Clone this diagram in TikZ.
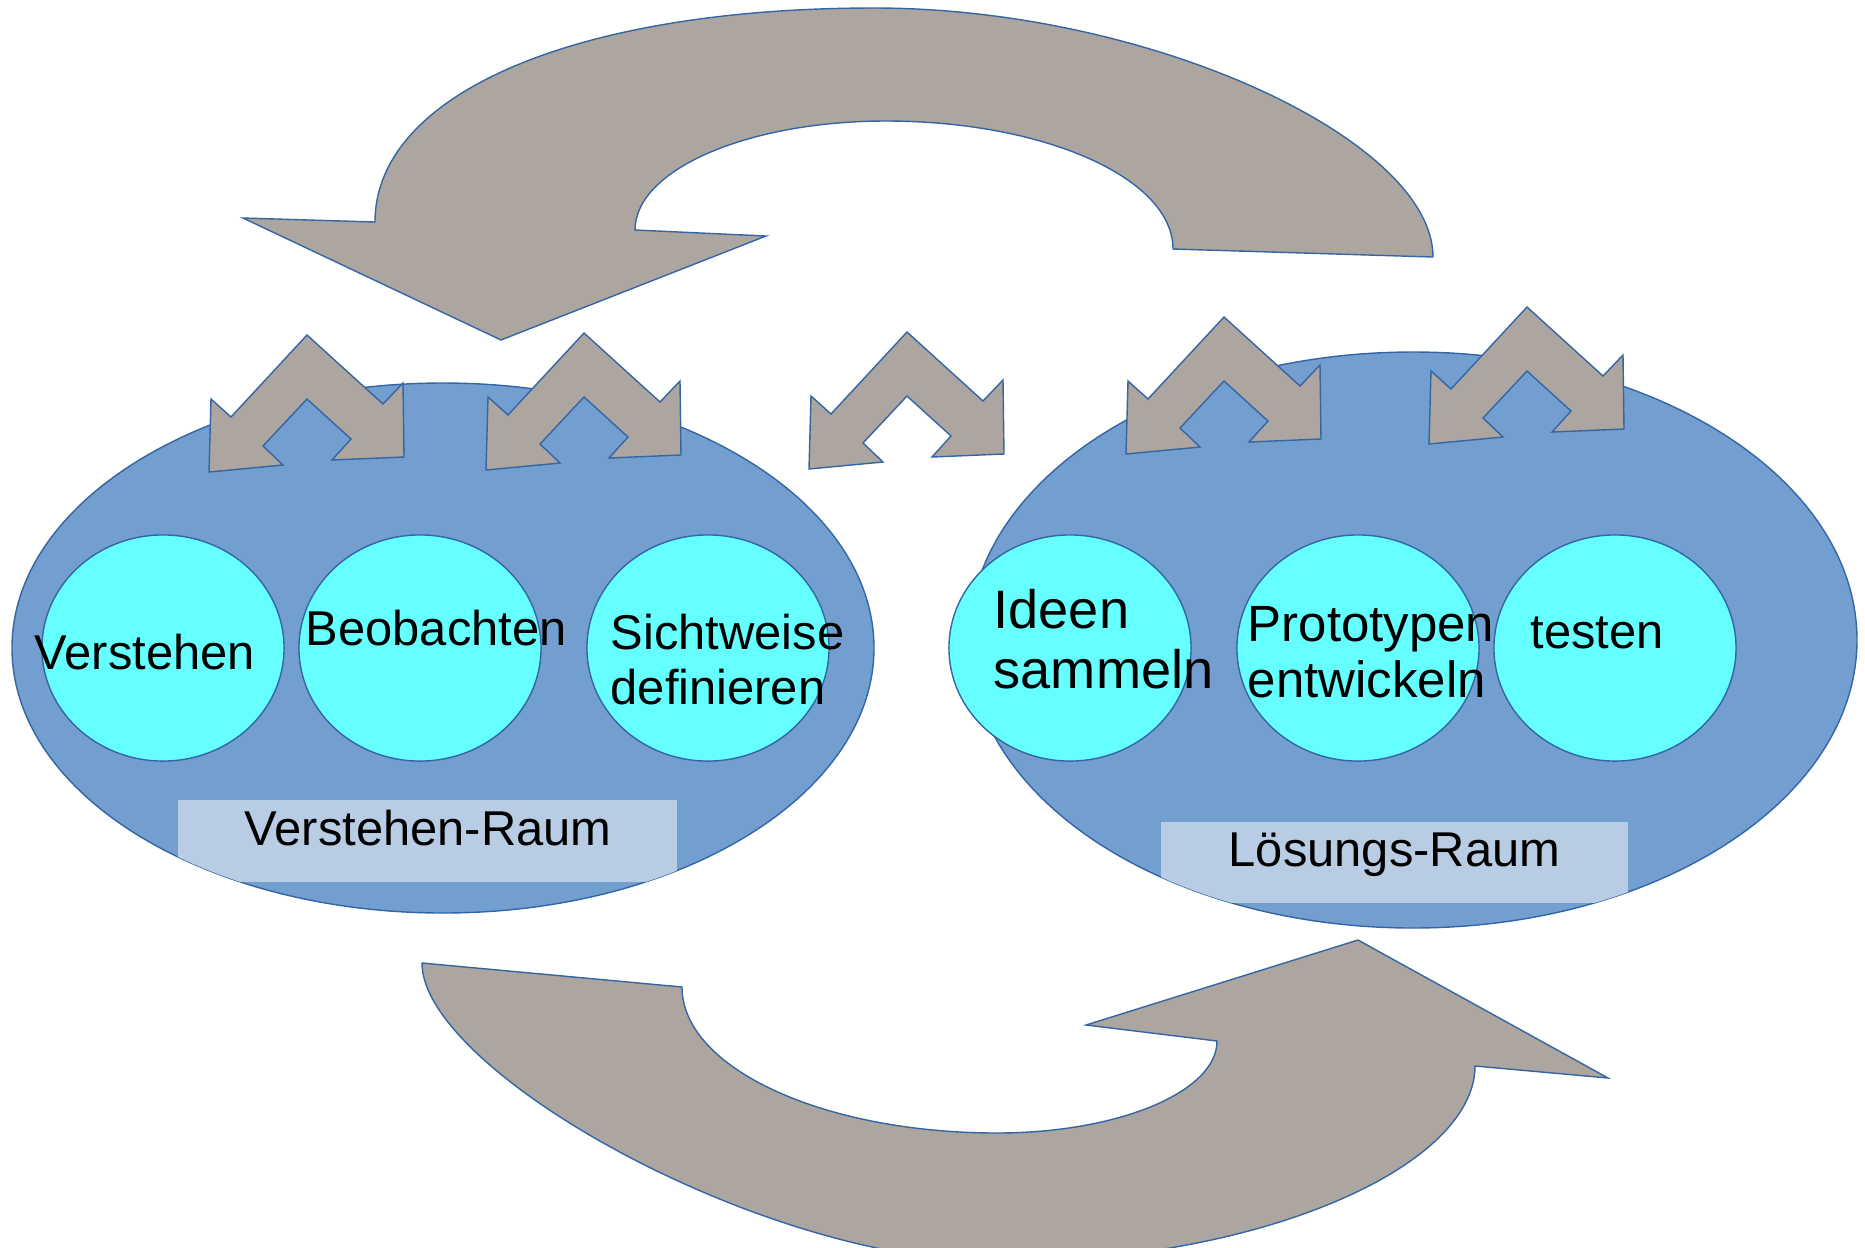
\documentclass[tikz,border=0pt]{standalone}
\usepackage{fontspec}
\setmainfont{Liberation Sans}
\usepackage{xcolor}
\usetikzlibrary{shapes.geometric, positioning}
\definecolor{arrowgrey}{RGB}{173, 166, 160}
\definecolor{roomblue}{RGB}{114, 159, 207}
\definecolor{bubblecyan}{RGB}{102, 255, 255}
\definecolor{tagblue}{RGB}{184, 204, 228}
\definecolor{edgeblue}{RGB}{52, 101, 164}

\tikzset{
    cyclearrow/.style={fill=arrowgrey, draw=edgeblue, line width=0.4pt, line join=miter},
    roomfill/.style={fill=roomblue, draw=edgeblue, line width=0.4pt},
    bubble/.style={ellipse, fill=bubblecyan, draw=edgeblue, line width=0.4pt, minimum width=2.42cm, minimum height=2.26cm, inner sep=0pt},
    word/.style={inner sep=0pt, align=left, anchor=base west, font=\fontsize{13.9}{15.7}\selectfont},
    roomtag/.style={fill=tagblue},
    twoway/.pic={
        \draw[cyclearrow] (0,0) -- (76,69) -- (96,48) -- (97,122) -- (25,125) -- (44,104) -- (0,64)
            -- (-44,111) -- (-24,130) -- (-98,137) -- (-96,64) -- (-76,82) -- cycle;
    }
}

\begin{document}
\begin{tikzpicture}[x=0.01cm, y=-0.01cm]
        \useasboundingbox (0,0) rectangle (1865,1247);

        % Upper loop arrow (back to understanding)
        \draw[cyclearrow] (1173,249) .. controls (1173,178) and (1044,121) .. (886,121)
            .. controls (747,121) and (635,170) .. (635,230) -- (766,236) -- (501,340) -- (243,218) -- (375,222)
            .. controls (375,94) and (575,8) .. (874,8)
            .. controls (1150,8) and (1433,140) .. (1433,257) -- cycle;

        % Lower loop arrow (on to solutions)
        \begin{scope}
            \clip (0,0) rectangle (1865,1247);
            \draw[cyclearrow] (422,963) -- (682,987) .. controls (682,1068) and (823,1133) .. (997,1133)
                .. controls (1118,1133) and (1217,1092) .. (1217,1041) -- (1086,1025) -- (1358,940) -- (1608,1078) -- (1475,1066)
                .. controls (1475,1166) and (1262,1262) .. (999,1262)
                .. controls (760,1262) and (422,1070) .. (422,963) -- cycle;
        \end{scope}

        % Spaces
        \draw[roomfill] (443,648) ellipse [x radius=431, y radius=265];
        \draw[roomfill] (1413,640) ellipse [x radius=444, y radius=288];

        % Understanding steps
        \node[bubble] (verstehen) at (163,648) {};
        \node[bubble] (beobachten) at (420,648) {};
        \node[bubble] (sichtweise) at (708,648) {};
        \node[word] (tverstehen) at (34,669) {Verstehen};
        \node[word] (tbeobachten) at (305,645) {Beobachten};
        \node[word, font=\fontsize{13.9}{15.6}\selectfont] (tsichtweise) at (610,704) {Sichtweise\\definieren};

        % Solution steps
        \node[bubble] (ideen) at (1070,648) {};
        \node[bubble] (prototypen) at (1358,648) {};
        \node[bubble] (testen) at (1615,648) {};
        \node[word, font=\fontsize{15.4}{16.8}\selectfont] (tideen) at (993,688) {Ideen\\sammeln};
        \node[word, font=\fontsize{14.5}{15.9}\selectfont] (tprototypen) at (1247,697) {Prototypen\\entwickeln};
        \node[word] (ttesten) at (1530,648) {testen};

        % Space labels
        \begin{scope}
            \clip (443,648) ellipse [x radius=431, y radius=265];
            \fill[roomtag] (178,800) rectangle (677,882);
        \end{scope}
        \begin{scope}
            \clip (1413,640) ellipse [x radius=444, y radius=288];
            \fill[roomtag] (1161,822) rectangle (1628,903);
        \end{scope}
        \node[word] (verstehenraum) at (244,845) {Verstehen-Raum};
        \node[word] (loesungsraum) at (1228,866) {Lösungs-Raum};

        % Back and forth arrows
        \pic at (307,335) {twoway};
        \pic at (584,333) {twoway};
        \pic at (907,332) {twoway};
        \pic at (1224,317) {twoway};
        \pic at (1527,307) {twoway};
    \end{tikzpicture}
\end{document}
